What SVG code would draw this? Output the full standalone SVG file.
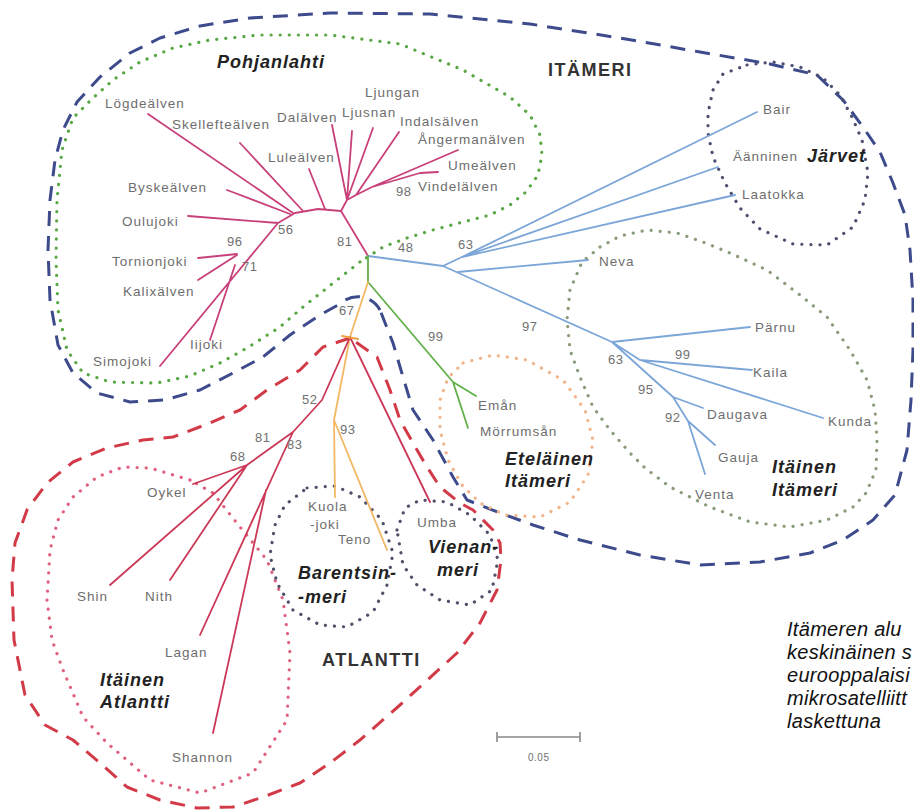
<svg xmlns="http://www.w3.org/2000/svg" width="914" height="812" viewBox="0 0 914 812">
<style>
.lbl{font-family:"Liberation Sans",Arial,sans-serif;font-size:13.5px;letter-spacing:1px;fill:#6e6e6e}
.num{font-family:"Liberation Sans",Arial,sans-serif;font-size:13px;letter-spacing:0.5px;fill:#707070}
.reg{font-family:"Liberation Sans",Arial,sans-serif;font-size:18px;font-weight:bold;font-style:italic;letter-spacing:1px;fill:#222}
.big{font-family:"Liberation Sans",Arial,sans-serif;font-size:18px;font-weight:bold;letter-spacing:1.5px;fill:#333}
.cap{font-family:"Liberation Sans",Arial,sans-serif;font-size:20px;font-style:italic;letter-spacing:0.3px;fill:#111}
.dash{fill:none;stroke-width:3;stroke-dasharray:15 10;stroke-linecap:butt;stroke-linejoin:round}
.dot{fill:none;stroke-width:3.2;stroke-dasharray:0.1 9;stroke-linecap:round;stroke-linejoin:round}
.br{fill:none;stroke-width:1.8;stroke-linecap:round;stroke-linejoin:round}
.pk{stroke:#c8407a}
.ap{stroke:#cc3858}
.bl{stroke:#7ca6d8}
.gr{stroke:#62b04a}
.or{stroke:#f3b865}
</style>
<rect width="914" height="812" fill="#fff"/>
<g id="boundaries">
<path id="itameri-boundary" class="dash" stroke="#3d4b8c" d="M380,310 C372,295 352,292 338,305 L320,315 L290,335 L263,357 L233,373 L200,390 L165,400 L130,402 L97,393 L73,373 L58,345 L50,300 L48,250 L50,200 L55,160 L63,130 L77,102 L100,77 L130,53 L160,38 L200,26 L250,18 L330,13 L430,14 L530,24 L620,38 L700,52 L770,64 L817,75 L843,100 L863,127 L880,152 L893,183 L905,215 L910,250 L913,300 L913,350 L911,400 L907,450 L895,495 L873,520 L843,540 L810,553 L760,562 L700,565 L640,555 L580,540 L533,525 L500,513 L467,500 L453,477 L433,440 L413,410 L403,377 L393,343 Z"/>
<path id="pohjanlahti-boundary" class="dot" stroke="#5aa845" d="M360,262 L337,280 L303,307 L280,327 L247,348 L220,363 L190,376 L157,383 L110,382 L83,373 L67,350 L58,310 L56,260 L57,200 L62,150 L73,118 L93,98 L113,80 L140,62 L173,48 L210,40 L260,35 L330,35 L400,44 L463,70 L510,97 L530,115 L540,135 L542,155 L538,175 L526,192 L510,205 L490,215 L463,222 L433,230 L407,238 L383,247 Z"/>
<path id="jarvet-boundary" class="dot" stroke="#4c5070" d="M747,65 L773,62 L800,67 L823,78 L840,95 L852,117 L862,140 L868,173 L865,200 L853,227 L827,245 L793,244 L760,229 L740,208 L725,183 L713,157 L708,133 L708,113 L713,90 L723,74 Z"/>
<path id="itainen-itameri-boundary" class="dot" stroke="#8a9c7a" d="M600,247 L620,236 L647,230 L677,233 L703,242 L730,253 L767,270 L800,295 L827,317 L850,350 L867,380 L875,410 L877,440 L876,470 L866,493 L853,507 L827,520 L790,527 L750,522 L710,507 L670,487 L645,468 L630,453 L610,430 L593,407 L580,377 L570,350 L567,320 L570,290 L582,262 Z"/>
<path id="etelainen-boundary" class="dot" stroke="#f2b48a" d="M463,363 L493,355 L527,360 L563,380 L585,410 L593,440 L588,475 L570,502 L540,517 L505,515 L480,503 L462,485 L448,460 L440,430 L440,400 L448,378 Z"/>
<path id="atlantti-boundary" class="dash" stroke="#d23a48" d="M350,338 L323,347 L300,370 L267,390 L240,410 L210,423 L173,437 L143,440 L107,448 L73,462 L47,483 L27,510 L15,543 L12,580 L14,640 L25,695 L45,725 L73,740 L100,763 L127,787 L160,800 L197,808 L233,807 L263,797 L300,783 L330,763 L360,740 L400,705 L457,653 L480,623 L497,590 L501,560 L500,543 L493,530 L473,510 L460,503 L440,487 L427,467 L413,443 L400,420 L390,390 L377,357 Z"/>
<path id="itainen-atlantti-boundary" class="dot" stroke="#e0607e" d="M190,480 L150,468 L123,467 L97,477 L73,497 L58,520 L50,550 L47,600 L52,640 L63,670 L83,717 L107,743 L150,780 L200,793 L253,773 L287,720 L290,653 L283,600 L267,560 L240,527 L213,493 Z"/>
<path id="barents-boundary" class="dot" stroke="#50506a" d="M307,488 L335,486 L360,497 L382,520 L393,553 L387,585 L373,612 L347,627 L320,625 L293,610 L277,583 L270,555 L275,525 L285,505 Z"/>
<path id="vienanmeri-boundary" class="dot" stroke="#50506a" d="M397,530 L405,508 L420,500 L447,502 L470,515 L490,535 L498,560 L492,590 L470,605 L440,600 L417,585 L403,565 Z"/>
</g>
<g id="connectors">
<path class="br pk" d="M368,256 L341,211 L347,200 M347,200 L332,125 M347,200 L352,131 M347,200 L373,128 M347,200 L356,195 L399,132 M356,195 L372,187 L458,150 M372,187 L420,173 L438,172"/>
<path class="br pk" d="M341,211 L318,209 L295,213 M148,114 L293,213 M240,143 L303,211 M309,169 L325,209 M227,190 L290,214 M295,213 L278,223 M188,216 L278,223 M278,223 L160,366 M198,258 L237,254 M198,280 L237,255 M235,265 L210,340"/>
<path class="br bl" d="M368,256 L443,266 L462,257 L757,112 M462,257 L718,167 M462,257 L735,195 M443,266 L612,342 M458,272 L588,260 M612,342 L750,327 M612,342 L640,360 L752,370 M640,360 L823,418 M612,342 L673,397 L703,408 M673,397 L688,421 L715,445 M688,421 L705,474"/>
<path class="br gr" d="M368,256 L368,282 L453,382 L476,396 M453,382 L468,428"/>
<path class="br or" d="M368,282 L350,337 L334,420 L335,497 M334,420 L387,550"/>
<path class="br ap" d="M350,337 L322,400 L293,432 L247,465 L193,484 M247,465 L110,585 M247,465 L170,580 M293,432 L200,635 M266,490 L213,733 M350,337 L430,502"/>
<path class="br" stroke="#f0a040" stroke-width="3" d="M342,336 L358,339"/>
<path id="scale-bar" fill="none" stroke="#888" stroke-width="1.6" d="M497,737 L580,737 M497,732 L497,742 M580,732 L580,742"/>
</g>
<g id="node-Pohjanlahti"><text class="reg" x="217" y="68">Pohjanlahti</text></g>
<g id="node-ITAMERI"><text class="big" x="548" y="76">ITÄMERI</text></g>
<g id="node-ATLANTTI"><text class="big" x="322" y="666">ATLANTTI</text></g>
<g id="node-Jarvet"><text class="reg" x="807" y="162">Järvet</text></g>
<g id="node-ItainenItameri"><text class="reg" x="772" y="473">Itäinen</text><text class="reg" x="772" y="496">Itämeri</text></g>
<g id="node-EtelainenItameri"><text class="reg" x="505" y="465">Eteläinen</text><text class="reg" x="505" y="487">Itämeri</text></g>
<g id="node-ItainenAtlantti"><text class="reg" x="100" y="686">Itäinen</text><text class="reg" x="100" y="708">Atlantti</text></g>
<g id="node-Barentsinmeri"><text class="reg" x="298" y="579">Barentsin-</text><text class="reg" x="298" y="603">-meri</text></g>
<g id="node-Vienanmeri"><text class="reg" x="428" y="553">Vienan-</text><text class="reg" x="437" y="576">meri</text></g>
<g id="node-Logdealven"><text class="lbl" x="105" y="108">Lögdeälven</text></g>
<g id="node-Skelleftealven"><text class="lbl" x="172" y="129">Skellefteälven</text></g>
<g id="node-Dalalven"><text class="lbl" x="277" y="122">Dalälven</text></g>
<g id="node-Ljusnan"><text class="lbl" x="342" y="117">Ljusnan</text></g>
<g id="node-Ljungan"><text class="lbl" x="365" y="97">Ljungan</text></g>
<g id="node-Indalsalven"><text class="lbl" x="400" y="126">Indalsälven</text></g>
<g id="node-Angermanalven"><text class="lbl" x="418" y="144">Ångermanälven</text></g>
<g id="node-Umealven"><text class="lbl" x="448" y="170">Umeälven</text></g>
<g id="node-Vindelalven"><text class="lbl" x="418" y="191">Vindelälven</text></g>
<g id="node-Lulealven"><text class="lbl" x="268" y="162">Luleälven</text></g>
<g id="node-Byskealven"><text class="lbl" x="128" y="192">Byskeälven</text></g>
<g id="node-Oulujoki"><text class="lbl" x="122" y="226">Oulujoki</text></g>
<g id="node-Tornionjoki"><text class="lbl" x="112" y="266">Tornionjoki</text></g>
<g id="node-Kalixalven"><text class="lbl" x="123" y="296">Kalixälven</text></g>
<g id="node-Iijoki"><text class="lbl" x="190" y="349">Iijoki</text></g>
<g id="node-Simojoki"><text class="lbl" x="93" y="366">Simojoki</text></g>
<g id="node-Neva"><text class="lbl" x="599" y="266">Neva</text></g>
<g id="node-Bair"><text class="lbl" x="763" y="114">Bair</text></g>
<g id="node-Aanninen"><text class="lbl" x="733" y="161">Äänninen</text></g>
<g id="node-Laatokka"><text class="lbl" x="742" y="199">Laatokka</text></g>
<g id="node-Parnu"><text class="lbl" x="755" y="332">Pärnu</text></g>
<g id="node-Kaila"><text class="lbl" x="753" y="377">Kaila</text></g>
<g id="node-Kunda"><text class="lbl" x="828" y="426">Kunda</text></g>
<g id="node-Daugava"><text class="lbl" x="707" y="419">Daugava</text></g>
<g id="node-Gauja"><text class="lbl" x="718" y="462">Gauja</text></g>
<g id="node-Venta"><text class="lbl" x="695" y="499">Venta</text></g>
<g id="node-Eman"><text class="lbl" x="478" y="410">Emån</text></g>
<g id="node-Morrumsan"><text class="lbl" x="480" y="436">Mörrumsån</text></g>
<g id="node-Oykel"><text class="lbl" x="147" y="497">Oykel</text></g>
<g id="node-Shin"><text class="lbl" x="77" y="601">Shin</text></g>
<g id="node-Nith"><text class="lbl" x="145" y="601">Nith</text></g>
<g id="node-Lagan"><text class="lbl" x="165" y="657">Lagan</text></g>
<g id="node-Shannon"><text class="lbl" x="172" y="762">Shannon</text></g>
<g id="node-Kuolajoki"><text class="lbl" x="308" y="511">Kuola</text><text class="lbl" x="310" y="529">-joki</text></g>
<g id="node-Teno"><text class="lbl" x="338" y="544">Teno</text></g>
<g id="node-Umba"><text class="lbl" x="417" y="527">Umba</text></g>
<g id="bootstrap-values">
<text class="num" x="396" y="196">98</text>
<text class="num" x="278" y="234">56</text>
<text class="num" x="227" y="246">96</text>
<text class="num" x="242" y="271">71</text>
<text class="num" x="337" y="246">81</text>
<text class="num" x="398" y="252">48</text>
<text class="num" x="458" y="249">63</text>
<text class="num" x="522" y="331">97</text>
<text class="num" x="608" y="364">63</text>
<text class="num" x="675" y="359">99</text>
<text class="num" x="638" y="394">95</text>
<text class="num" x="665" y="422">92</text>
<text class="num" x="428" y="341">99</text>
<text class="num" x="339" y="315">67</text>
<text class="num" x="302" y="404">52</text>
<text class="num" x="255" y="442">81</text>
<text class="num" x="230" y="461">68</text>
<text class="num" x="287" y="449">83</text>
<text class="num" x="340" y="434">93</text>
<text class="num" x="528" y="761" style="font-size:10px">0.05</text>
</g>
<g id="caption">
<text class="cap" x="787" y="636">Itämeren alu</text>
<text class="cap" x="787" y="659">keskinäinen s</text>
<text class="cap" x="787" y="682">eurooppalaisi</text>
<text class="cap" x="787" y="705">mikrosatelliitt</text>
<text class="cap" x="787" y="728">laskettuna</text>
</g>
</svg>
